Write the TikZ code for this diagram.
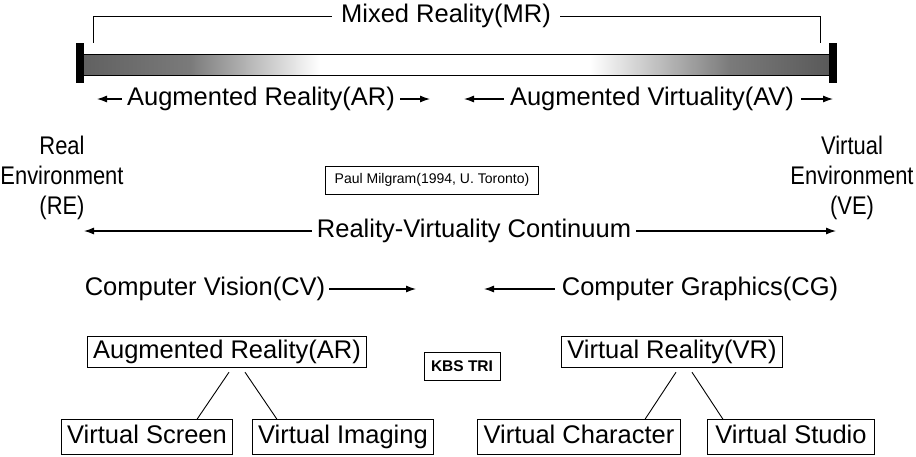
\documentclass[tikz,border=0pt]{standalone}
\usepackage{fontspec}
\setmainfont{Liberation Sans}
\usetikzlibrary{arrows.meta}
\begin{document}
\begin{tikzpicture}[x=1pt,y=-1pt,
  big/.style={font=\fontsize{25.5}{30}\selectfont, inner sep=1pt},
  small/.style={font=\fontsize{14}{16}\selectfont},
  box/.style={draw, line width=0.9pt, big, inner xsep=6pt, inner ysep=3.5pt,
    text height=19pt, text depth=5.5pt},
  lowbox/.style={box, inner ysep=5pt},
  sbox/.style={draw, line width=0.9pt, small, inner xsep=9pt, inner ysep=7.5pt},
  arr/.style={line width=1.1pt, -{Latex[length=10pt,width=7pt]}},
  link/.style={line width=0.9pt},
  endcap/.style={fill=black}]
\useasboundingbox[fill=white] (0,0) rectangle (916,456);

% ---- shaded continuum bar ----
\shade[left color=black!62, right color=black!52] (84,54) rectangle (190,75);
\shade[left color=black!52, right color=white] (190,54) rectangle (320,75);
\shade[left color=white, right color=black!52] (590,54) rectangle (730,75);
\shade[left color=black!52, right color=black!65] (730,54) rectangle (829,75);
\draw[line width=0.8pt] (84,54) -- (829,54);
\draw[line width=0.8pt] (84,75) -- (829,75);
\fill[endcap] (76,43) rectangle (84,83);
\fill[endcap] (829,43) rectangle (837,83);

% ---- Mixed Reality bracket ----
\node[big] (mr) at (446,16) {Mixed Reality(MR)};
\coordinate (mrl) at (93,43);
\coordinate (mrr) at (820,43);
\draw[link] (mr.west) ++(-8,0) -| (mrl);
\draw[link] (mr.east) ++(8,0) -| (mrr);

% ---- AR / AV span labels ----
\node[big] (ar) at (261,99) {Augmented Reality(AR)};
\node[big] (av) at (652,99) {Augmented Virtuality(AV)};
\coordinate (arL) at (97,99);
\coordinate (arR) at (430,99);
\coordinate (avL) at (464,99);
\coordinate (avR) at (833,99);
\draw[arr] ([xshift=-4pt]ar.west) -- (arL);
\draw[arr] ([xshift=4pt]ar.east) -- (arR);
\draw[arr] ([xshift=-5pt]av.west) -- (avL);
\draw[arr] ([xshift=6pt]av.east) -- (avR);

% ---- the two environments ----
\node[big, align=center, xscale=0.86, transform shape] (re) at (62,178) {Real\\Environment\\(RE)};
\node[big, align=center, xscale=0.86, transform shape] (ve) at (852,178) {Virtual\\Environment\\(VE)};

\node[sbox] (pm) at (432,180) {Paul Milgram(1994, U. Toronto)};

% ---- continuum axis ----
\node[big] (rv) at (474,231) {Reality-Virtuality Continuum};
\coordinate (rvL) at (84,231);
\coordinate (rvR) at (836,231);
\draw[arr] ([xshift=-4pt]rv.west) -- (rvL);
\draw[arr] ([xshift=4pt]rv.east) -- (rvR);

% ---- CV / CG ----
\node[big] (cv) at (205,289) {Computer Vision(CV)};
\node[big] (cg) at (700,289) {Computer Graphics(CG)};
\coordinate (cvR) at (416,289);
\coordinate (cgL) at (484,289);
\draw[arr] ([xshift=3pt]cv.east) -- (cvR);
\draw[arr] ([xshift=-6pt]cg.west) -- (cgL);

% ---- technology tree ----
\node[box] (arbox) at (227,352) {Augmented Reality(AR)};
\node[sbox, font=\fontsize{15.5}{18}\bfseries, inner ysep=8.5pt, inner xsep=7pt] (kbs) at (462,366) {KBS TRI};
\node[box] (vrbox) at (672,352) {Virtual Reality(VR)};

\node[lowbox] (vs) at (147,437) {Virtual Screen};
\node[lowbox] (vi) at (343,437) {Virtual Imaging};
\node[lowbox] (vc) at (579,437) {Virtual Character};
\node[lowbox, inner xsep=8pt] (vst) at (791,437) {Virtual Studio};

\draw[link] ([xshift=2pt,yshift=-4pt]arbox.south) -- ([xshift=50pt]vs.north);
\draw[link] ([xshift=18pt,yshift=-4pt]arbox.south) -- ([xshift=-66pt]vi.north);
\draw[link] ([xshift=4pt,yshift=-4pt]vrbox.south) -- ([xshift=66pt]vc.north);
\draw[link] ([xshift=20pt,yshift=-4pt]vrbox.south) -- ([xshift=-68pt]vst.north);
\end{tikzpicture}
\end{document}
